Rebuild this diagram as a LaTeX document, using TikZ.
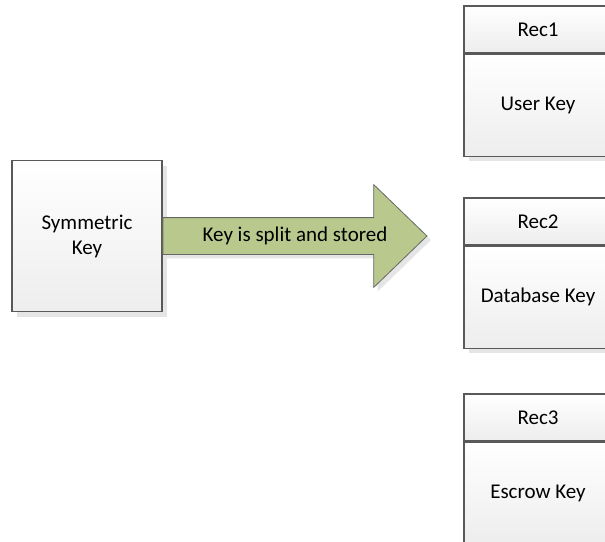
\documentclass[tikz,border=0pt]{standalone}
\usepackage{fontspec}
\setmainfont{Carlito}
\usetikzlibrary{positioning,shapes.arrows,shadows,calc}
\definecolor{splitgreen}{RGB}{185,201,142}
\begin{document}
\begin{tikzpicture}[x=1pt, y=-1pt,
    box/.style = {draw=black!65, line width=1.1pt, top color=white, bottom color=black!7,
        drop shadow={shadow xshift=5pt, shadow yshift=-5pt, fill=black!10, opacity=1},
        font=\fontsize{21}{25}\selectfont, align=center, inner sep=0pt},
    rechead/.style = {box, minimum width=148pt, minimum height=47pt},
    recbody/.style = {box, minimum width=148pt, minimum height=102pt},
    bigarrow/.style = {single arrow, draw=black!60, line width=0.8pt, fill=splitgreen,
        drop shadow={shadow xshift=4pt, shadow yshift=-4pt, fill=black!10, opacity=1},
        single arrow head extend=33pt, single arrow tip angle=88, minimum height=264pt,
        inner xsep=0pt, inner ysep=9pt, text height=14pt, text depth=4pt}]
    \useasboundingbox (0,0) rectangle (605,541);
    \clip (0,0) rectangle (605,541);
    \node[box, minimum width=150pt, minimum height=151pt] (sym) at (87,236) {Symmetric\\Key};
    \node[bigarrow, anchor=tail] (split) at (sym.east) {};
    \node[font=\fontsize{21}{25}\selectfont] (splittext) at ($(split.tail)!0.5!(split.tip)$) {Key is split and stored};
    \node[rechead] (rec1) at (538,29.5) {Rec1};
    \node[recbody, below=0pt of rec1] (user) {User Key};
    \node[rechead] (rec2) at (538,221.5) {Rec2};
    \node[recbody, below=0pt of rec2] (database) {Database Key};
    \node[rechead] (rec3) at (538,417.5) {Rec3};
    \node[recbody, below=0pt of rec3] (escrow) {Escrow Key};
\end{tikzpicture}
\end{document}
